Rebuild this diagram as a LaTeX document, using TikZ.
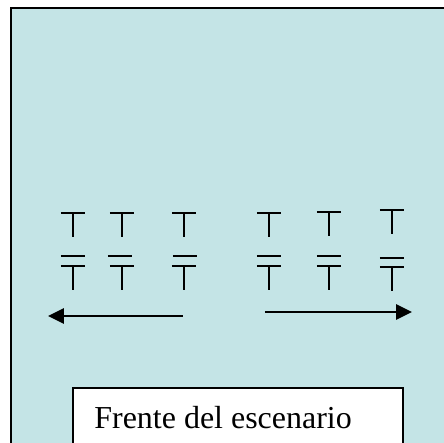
\documentclass[tikz,border=0pt]{standalone}
\usepackage{fontspec}
\setmainfont{Liberation Serif}
\usetikzlibrary{arrows.meta}
\definecolor{escena}{RGB}{196,228,230}
\def\tee(#1,#2){\draw[line width=1.1pt] (#1,#2) ++(-12,0) -- ++(24,0) (#1,#2) -- ++(0,24);}
\def\raya(#1,#2){\draw[line width=1.1pt] (#1,#2) ++(-12,0) -- ++(24,0);}

\begin{document}
\begin{tikzpicture}[x=0.02cm,y=-0.02cm]
		%%%%% START %%%%%
		\useasboundingbox (0,0) rectangle (444,443);
		
		\fill[escena] (11,8) rectangle (444,443);
		\draw[line width=1.1pt] (11,443) -- (11,8) -- (444,8);
		
		% primera fila
		\tee(73,213)
		\tee(122,213)
		\tee(184,213)
		\tee(269,213)
		\tee(329,212)
		\tee(392,210)
		
		% segunda fila
		\raya(73,256)
		\raya(120,256)
		\raya(185,256)
		\raya(269,256)
		\raya(329,256)
		\raya(392,258)
		\tee(73,266)
		\tee(122,266)
		\tee(184,266)
		\tee(269,266)
		\tee(329,266)
		\tee(392,267)
		
		\coordinate (izqA) at (183,316);
		\coordinate (izqB) at (48,316);
		\draw[line width=1.6pt, -{Triangle[length=0.32cm,width=0.3cm]}] (izqA) -- (izqB);
		\coordinate (derA) at (265,312);
		\coordinate (derB) at (412,312);
		\draw[line width=1.6pt, -{Triangle[length=0.32cm,width=0.3cm]}] (derA) -- (derB);
		
		\draw[fill=white, line width=0.6pt] (73,444) -- (73,388) -- (403,388) -- (403,444);
		\node[anchor=base west, inner sep=0pt, font=\fontsize{18.2}{22}\selectfont] (frente) at (94,428) {Frente del escenario};
		
		%%%%% END %%%%%
	\end{tikzpicture}
\end{document}
